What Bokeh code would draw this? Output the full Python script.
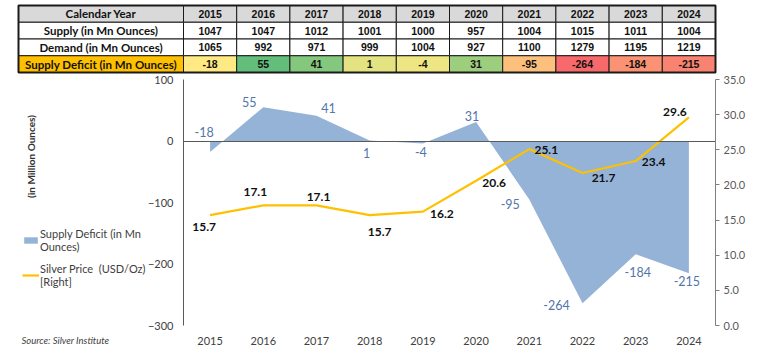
import math
from bokeh.plotting import figure
from bokeh.models import (Range1d, LinearAxis, FixedTicker, Legend, LegendItem, Label,
                          ColumnDataSource, NumeralTickFormatter)
from bokeh.embed import file_html
from bokeh.resources import INLINE
from bokeh.core.properties import value

# ---------------- data ----------------
years = ["2015", "2016", "2017", "2018", "2019", "2020", "2021", "2022", "2023", "2024"]
supply = [1047, 1047, 1012, 1001, 1000, 957, 1004, 1015, 1011, 1004]
demand = [1065, 992, 971, 999, 1004, 927, 1100, 1279, 1195, 1219]
deficit = [-18, 55, 41, 1, -4, 31, -95, -264, -184, -215]
price = [15.7, 17.1, 17.1, 15.7, 16.2, 20.6, 25.1, 21.7, 23.4, 29.6]
row_labels = ["Calendar Year", "Supply (in Mn Ounces)", "Demand (in Mn Ounces)",
              "Supply Deficit (in Mn Ounces)"]
left_ticks = [100, 0, -100, -200, -300]
right_ticks = [0, 5, 10, 15, 20, 25, 30, 35]

# ---------------- styles ----------------
deficit_colors = ["#FFE983", "#63BE7B", "#84C87D", "#E3E382", "#EEE683",
                  "#9CCE7E", "#FDC07C", "#F8696B", "#FA9273", "#F98270"]
label_fills = ["#D9D9D9", "#FFFFFF", "#FFFFFF", "#FFC000"]
def_dx = [-6, -14, 12, -3, -2, -4, -19, -26, 2, -2]
def_dy = [-20, -5, -8, 13, 9, -6, 5, 2, 18, 8]
pr_dx = [-6, -8, 2, 10, 19, 18, 17, 21, 18, -14]
pr_dy = [12, -13, -8, 17, 2, 2, 1, 5, 1, -5]

FNAME = "Lato"
FONT = value(FNAME)
n = len(years)

# ---------------- layout geometry (pixels) ----------------
W, H = 760, 356
BW = 53.2          # width of one year band
X0 = 183           # left edge of first year band
LABEL_W = 165 / BW  # width of table label column, in bands
Y_TOP, Y_BOT = 79, 325   # chart plot area top / bottom
T_TOP, T_BOT = 5, 72     # table top / bottom

L_MIN, L_MAX = -300, 100
R_MIN, R_MAX = 0, 35
s_l = (Y_BOT - Y_TOP) / (L_MAX - L_MIN)
s_r = (Y_BOT - Y_TOP) / (R_MAX - R_MIN)
s_t = (T_BOT - T_TOP) / 4

p = figure(width=W, height=H,
           x_range=Range1d(-X0 / BW, (W - X0) / BW),
           y_range=Range1d(L_MIN - (H - Y_BOT) / s_l, L_MAX + Y_TOP / s_l),
           output_backend="svg", toolbar_location=None,
           x_axis_location=None, y_axis_location=None,
           min_border=0, outline_line_color=None)
p.grid.visible = False
p.extra_y_ranges = {
    "price": Range1d(R_MIN - (H - Y_BOT) / s_r, R_MAX + Y_TOP / s_r),
    "table": Range1d(0 - (H - T_BOT) / s_t, 4 + T_TOP / s_t),
}

# ---------------- table ----------------
rows_y = [3.5, 2.5, 1.5, 0.5]
row_values = [years, [str(v) for v in supply], [str(v) for v in demand], [str(v) for v in deficit]]
row_fills = [["#D9D9D9"] * n, ["#FFFFFF"] * n, ["#FFFFFF"] * n, deficit_colors]

cx, cy, ctext, cfill = [], [], [], []
for r in range(4):
    for i in range(n):
        cx.append(i + 0.5)
        cy.append(rows_y[r])
        ctext.append(row_values[r][i])
        cfill.append(row_fills[r][i])
cells = ColumnDataSource(dict(x=cx, y=cy, text=ctext, fill=cfill))
labs = ColumnDataSource(dict(x=[-LABEL_W / 2] * 4, y=rows_y, text=row_labels, fill=label_fills))

p.rect(x="x", y="y", width=1, height=1, fill_color="fill", line_color="#1a1a1a",
       line_width=1, source=cells, y_range_name="table")
p.rect(x="x", y="y", width=LABEL_W, height=1, fill_color="fill", line_color="#1a1a1a",
       line_width=1, source=labs, y_range_name="table")
p.rect(x=[(n - LABEL_W) / 2], y=[2], width=n + LABEL_W, height=4, fill_color=None,
       line_color="#1a1a1a", line_width=2, y_range_name="table")
p.text(x="x", y="y", text="text", source=cells, text_align="center", text_baseline="middle",
       text_font=value("Liberation Sans"), text_font_style="bold", text_font_size="10.5px",
       text_color="#111111", y_range_name="table")
p.text(x="x", y="y", text="text", source=labs, text_align="center", text_baseline="middle",
       text_font=FONT, text_font_style="bold", text_font_size="11.5px", text_color="#111111",
       y_range_name="table")

# ---------------- chart ----------------
xc = [i + 0.5 for i in range(n)]
src = ColumnDataSource(dict(
    x=xc, deficit=deficit, price=price,
    dlab=[str(v) for v in deficit], plab=[f"{v:.1f}" for v in price],
    ddx=def_dx, ddy=def_dy, pdx=pr_dx, pdy=pr_dy))

area = p.varea(x="x", y1=0, y2="deficit", source=src, fill_color="#95B3D7")
line = p.line(x="x", y="price", source=src, y_range_name="price",
              line_color="#FFC000", line_width=2.2)

p.text(x="x", y="deficit", text="dlab", x_offset="ddx", y_offset="ddy", source=src,
       text_align="center", text_baseline="middle", text_font=FONT,
       text_font_size="12.5px", text_color="#5275AA")
p.text(x="x", y="price", text="plab", x_offset="pdx", y_offset="pdy", source=src,
       y_range_name="price", text_align="center", text_baseline="middle", text_font=FONT,
       text_font_style="bold", text_font_size="12px", text_color="#111111")

# zero line (horizontal category axis crossing at 0)
za = LinearAxis(fixed_location=0, bounds=(0, n), ticker=FixedTicker(ticks=[]))
za.axis_line_color = "#595959"
za.axis_line_width = 1
za.major_tick_line_color = None
za.minor_tick_line_color = None
p.add_layout(za, "below")

# category labels
xa = LinearAxis(fixed_location=L_MIN, bounds=(0, n), ticker=FixedTicker(ticks=xc),
                major_label_overrides={x: y for x, y in zip(xc, years)})
xa.axis_line_color = None
xa.major_tick_line_color = None
xa.minor_tick_line_color = None
xa.major_label_standoff = 5
xa.major_label_text_font = FNAME
xa.major_label_text_font_size = "11px"
xa.major_label_text_color = "#404040"
p.add_layout(xa, "below")

# left axis
ya = LinearAxis(fixed_location=0, bounds=(L_MIN, L_MAX), ticker=FixedTicker(ticks=left_ticks))
ya.major_tick_out = 0
ya.major_tick_in = 0
ya.minor_tick_line_color = None
ya.axis_line_color = "#595959"
ya.major_label_standoff = 10
ya.major_label_text_font = FNAME
ya.major_label_text_font_size = "11px"
ya.major_label_text_color = "#404040"
p.add_layout(ya, "left")

# right axis
ra = LinearAxis(y_range_name="price", fixed_location=n, bounds=(R_MIN, R_MAX),
                ticker=FixedTicker(ticks=right_ticks),
                formatter=NumeralTickFormatter(format="0.0"))
ra.axis_line_color = "#7F7F7F"
ra.major_tick_line_color = "#7F7F7F"
ra.major_tick_out = 4
ra.major_tick_in = 0
ra.minor_tick_line_color = None
ra.major_label_standoff = 4
ra.major_label_text_font = FNAME
ra.major_label_text_font_size = "11px"
ra.major_label_text_color = "#595959"
p.add_layout(ra, "right")

# axis title
p.add_layout(Label(x=30, y=H - 156, x_units="screen", y_units="screen", angle=math.pi / 2,
                   text="(in Million Ounces)", text_font=FNAME, text_font_size="10px",
                   text_font_style="bold", text_color="#333333",
                   text_align="center", text_baseline="middle"))

legend = Legend(items=[
    LegendItem(label="Supply Deficit (in Mn\nOunces)", renderers=[area]),
    LegendItem(label="Silver Price  (USD/Oz)\n[Right]", renderers=[line]),
], location=(22, H - 288))
legend.border_line_color = None
legend.background_fill_alpha = 0
legend.padding = 0
legend.margin = 0
legend.spacing = 9
legend.glyph_width = 17
legend.glyph_height = 8
legend.label_standoff = 1
legend.label_text_font = FNAME
legend.label_text_font_size = "11px"
legend.label_text_color = "#404040"
p.add_layout(legend, "center")

p.add_layout(Label(x=21, y=H - 340, x_units="screen", y_units="screen",
                   text="Source: Silver Institute", text_font=FNAME, text_font_style="italic",
                   text_font_size="9.5px", text_color="#404040", text_baseline="middle"))

open("out.html", "w").write(file_html(p, INLINE))
